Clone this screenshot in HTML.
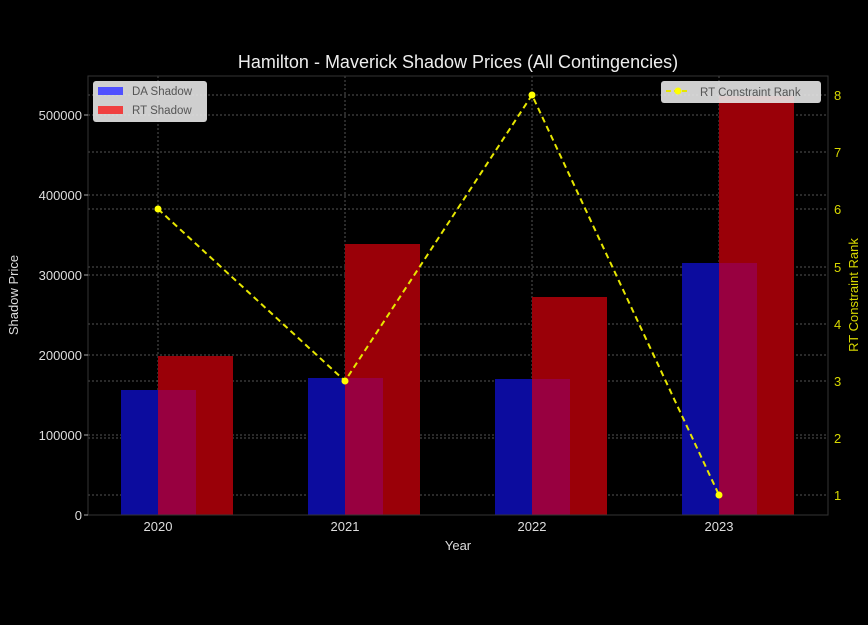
<!DOCTYPE html>
<html><head><meta charset="utf-8"><style>
html,body{margin:0;padding:0;background:#000;}
svg{display:block;font-family:"Liberation Sans","DejaVu Sans",sans-serif;}
</style></head><body>
<svg width="868" height="625" viewBox="0 0 868 625" xmlns="http://www.w3.org/2000/svg">
<rect width="868" height="625" fill="#000"/>
<g stroke="#555" stroke-width="1" stroke-dasharray="2,2" fill="none">
<line x1="88" x2="828" y1="435" y2="435"/><line x1="88" x2="828" y1="355" y2="355"/>
<line x1="88" x2="828" y1="275" y2="275"/><line x1="88" x2="828" y1="195" y2="195"/>
<line x1="88" x2="828" y1="115" y2="115"/>
<line x1="88" x2="828" y1="495" y2="495"/><line x1="88" x2="828" y1="438" y2="438"/>
<line x1="88" x2="828" y1="381" y2="381"/><line x1="88" x2="828" y1="324" y2="324"/>
<line x1="88" x2="828" y1="267" y2="267"/><line x1="88" x2="828" y1="209" y2="209"/>
<line x1="88" x2="828" y1="152" y2="152"/><line x1="88" x2="828" y1="95" y2="95"/>
<line x1="158" x2="158" y1="76" y2="515"/><line x1="345" x2="345" y1="76" y2="515"/>
<line x1="532" x2="532" y1="76" y2="515"/><line x1="719" x2="719" y1="76" y2="515"/>
</g>
<!-- bars -->
<g>
<rect x="121" y="390" width="75" height="125" fill="#0c0c9e"/>
<rect x="158" y="356" width="75" height="159" fill="#9a0008"/>
<rect x="158" y="390" width="38" height="125" fill="#980040"/>
<rect x="308" y="378" width="75" height="137" fill="#0c0c9e"/>
<rect x="345" y="244" width="75" height="271" fill="#9a0008"/>
<rect x="345" y="378" width="38" height="137" fill="#980040"/>
<rect x="495" y="379" width="75" height="136" fill="#0c0c9e"/>
<rect x="532" y="297" width="75" height="218" fill="#9a0008"/>
<rect x="532" y="379" width="38" height="136" fill="#980040"/>
<rect x="682" y="263" width="75" height="252" fill="#0c0c9e"/>
<rect x="719" y="96" width="75" height="419" fill="#9a0008"/>
<rect x="719" y="263" width="38" height="252" fill="#980040"/>
</g>
<rect x="88" y="76" width="740" height="439" fill="none" stroke="#333" stroke-width="1"/>
<!-- line -->
<polyline points="158,209 345,381 532,95 719,495" fill="none" stroke="#e6e600" stroke-width="2" stroke-dasharray="6,4"/>
<g fill="#ffff00"><circle cx="158" cy="209" r="3.5"/><circle cx="345" cy="381" r="3.5"/><circle cx="532" cy="95" r="3.5"/><circle cx="719" cy="495" r="3.5"/></g>
<!-- left ticks -->
<g fill="#ddd" font-size="13" text-anchor="end">
<text x="82" y="520">0</text><text x="82" y="440">100000</text><text x="82" y="360">200000</text>
<text x="82" y="280">300000</text><text x="82" y="200">400000</text><text x="82" y="120">500000</text>
</g>
<g stroke="#aaa"><line x1="84" x2="88" y1="515" y2="515"/><line x1="84" x2="88" y1="435" y2="435"/><line x1="84" x2="88" y1="355" y2="355"/><line x1="84" x2="88" y1="275" y2="275"/><line x1="84" x2="88" y1="195" y2="195"/><line x1="84" x2="88" y1="115" y2="115"/></g>
<!-- right ticks -->
<g fill="#d8d800" font-size="13">
<text x="834" y="500">1</text><text x="834" y="443">2</text><text x="834" y="386">3</text><text x="834" y="329">4</text>
<text x="834" y="272">5</text><text x="834" y="214">6</text><text x="834" y="157">7</text><text x="834" y="100">8</text>
</g>
<!-- x ticks -->
<g fill="#ddd" font-size="13" text-anchor="middle">
<text x="158" y="531">2020</text><text x="345" y="531">2021</text><text x="532" y="531">2022</text><text x="719" y="531">2023</text>
<text x="458" y="550">Year</text>
</g>
<text x="458" y="68" fill="#eee" font-size="18" text-anchor="middle">Hamilton - Maverick Shadow Prices (All Contingencies)</text>
<text transform="translate(18,295) rotate(-90)" fill="#ddd" font-size="13" text-anchor="middle">Shadow Price</text>
<text transform="translate(858,295) rotate(-90)" fill="#d8d800" font-size="13" text-anchor="middle">RT Constraint Rank</text>
<!-- legends -->
<rect x="93" y="81" width="114" height="41" rx="3" fill="#e6e6e6" fill-opacity="0.9"/>
<rect x="98" y="87" width="25" height="8" fill="#5050ff"/>
<rect x="98" y="106" width="25" height="8" fill="#f04040"/>
<text x="132" y="95" fill="#555" font-size="11.5">DA Shadow</text>
<text x="132" y="114" fill="#555" font-size="11.5">RT Shadow</text>
<rect x="661" y="81" width="160" height="22" rx="3" fill="#e6e6e6" fill-opacity="0.9"/>
<line x1="666" x2="690" y1="91" y2="91" stroke="#e6e600" stroke-width="2" stroke-dasharray="5,3"/>
<circle cx="678" cy="91" r="3.5" fill="#ffff00"/>
<text x="700" y="96" fill="#555" font-size="11.5">RT Constraint Rank</text>
</svg>
</body></html>
